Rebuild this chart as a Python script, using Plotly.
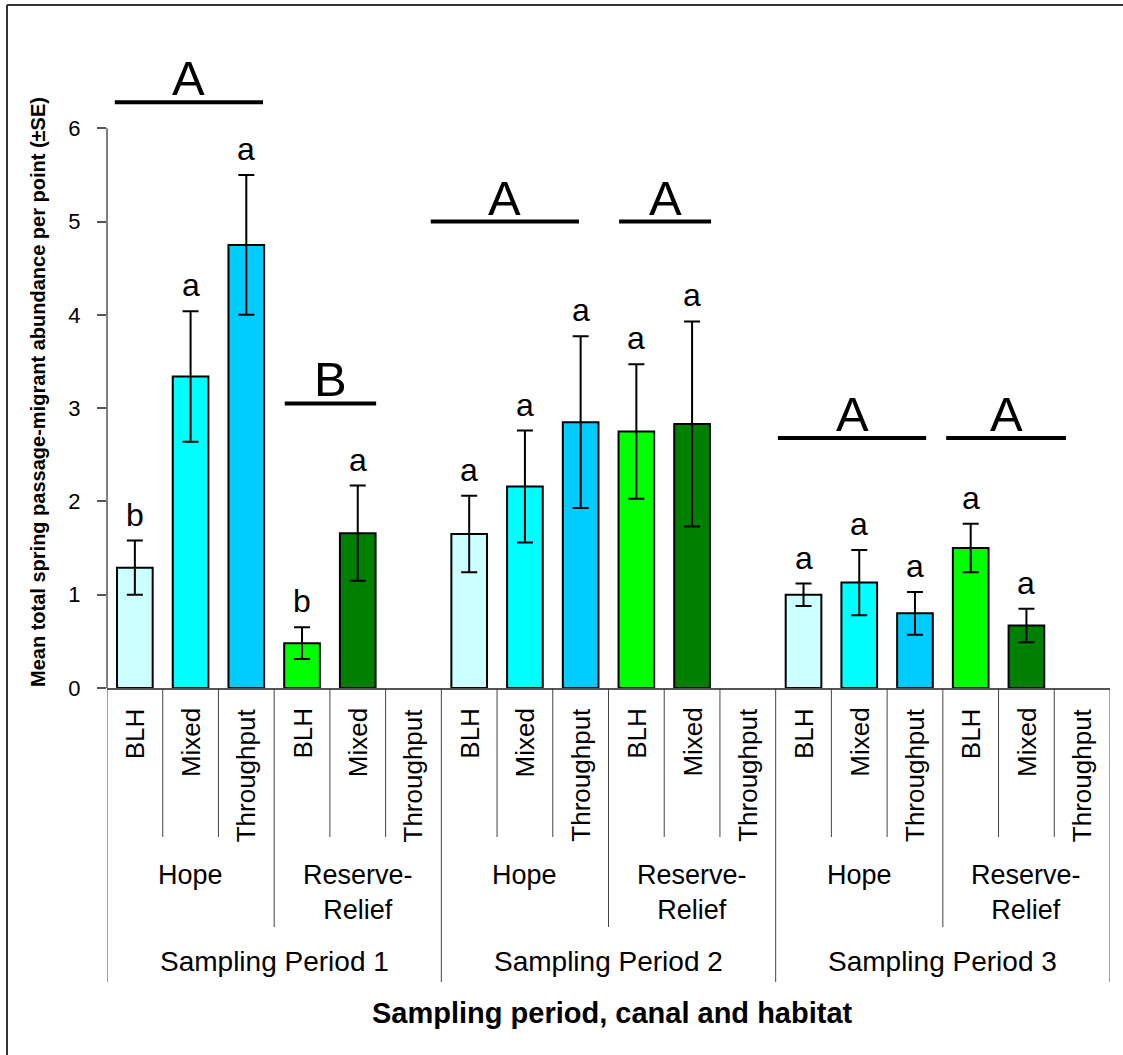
import plotly.graph_objects as go

# ---- data -------------------------------------------------------------
periods = ["Sampling Period 1", "Sampling Period 2", "Sampling Period 3"]
canals = ["Hope", "Reserve-<br>Relief"]
habitats = ["BLH", "Mixed", "Throughput"]

# mean abundance per point, in period -> canal -> habitat order (None = not sampled)
means = [1.29, 3.34, 4.75, 0.48, 1.66, None,
         1.65, 2.16, 2.85, 2.75, 2.83, None,
         1.00, 1.13, 0.80, 1.50, 0.67, None]
se = [0.29, 0.70, 0.75, 0.17, 0.51, None,
      0.41, 0.60, 0.92, 0.72, 1.10, None,
      0.12, 0.35, 0.23, 0.26, 0.18, None]
habitat_letters = ["b", "a", "a", "b", "a", "",
                   "a", "a", "a", "a", "a", "",
                   "a", "a", "a", "a", "a", ""]

# canal-level comparison bars: letter, height, and span in category units
group_letters = ["A", "B", "A", "A", "A", "A"]
group_levels = [6.28, 3.05, 5.0, 5.0, 2.68, 2.68]
group_x0 = [-0.36, 2.69, 5.31, 8.69, 11.54, 14.56]
group_x1 = [2.30, 4.33, 7.97, 10.34, 14.20, 16.71]

canal_colors = [["#CCFFFF", "#00FFFF", "#00CCFF"],
                ["#00FF00", "#008000", "#008000"]]

# ---- layout constants ----------------------------------------------------
W, H = 1123, 1055
ML, MR, MT, MB = 107, 13, 35, 367
PLOT_H = H - MT - MB
PLOT_W = W - ML - MR
FONT = "Arial, Liberation Sans, sans-serif"


def py(px):
    """pixel row -> paper y"""
    return (H - MB - px) / PLOT_H


def pxx(px):
    """pixel column -> paper x"""
    return (px - ML) / PLOT_W


n_h = len(habitats)
n_c = len(canals)
n = len(periods) * n_c * n_h
idx = list(range(n))
colors = [canal_colors[(i // n_h) % n_c][i % n_h] for i in idx]

fig = go.Figure()
fig.add_trace(go.Bar(
    x=idx, y=means, width=0.64,
    marker=dict(color=colors, line=dict(color="#000000", width=2)),
    error_y=dict(type="data", array=[s if s is not None else 0 for s in se],
                 visible=True, color="#000000", thickness=2, width=8),
    showlegend=False, hoverinfo="skip",
))

annotations = []
shapes = []

# significance letters above each bar
for i in idx:
    if means[i] is None:
        continue
    annotations.append(dict(
        x=i, y=means[i] + se[i], xref="x", yref="y",
        text=habitat_letters[i], showarrow=False,
        xanchor="center", yanchor="bottom", yshift=6,
        font=dict(family=FONT, size=32, color="#000000"),
    ))

# canal comparison lines with letters
for k in range(len(group_letters)):
    shapes.append(dict(type="line", xref="x", yref="y",
                       x0=group_x0[k], x1=group_x1[k],
                       y0=group_levels[k], y1=group_levels[k],
                       line=dict(color="#000000", width=4)))
    annotations.append(dict(
        x=(group_x0[k] + group_x1[k]) / 2, y=group_levels[k],
        xref="x", yref="y", text=group_letters[k], showarrow=False,
        xanchor="center", yanchor="bottom", yshift=-5,
        font=dict(family=FONT, size=49, color="#000000"),
    ))

# hierarchical category axis: habitat / canal / period
HAB_DEPTH, CANAL_DEPTH, PERIOD_DEPTH = 837, 927, 982
sep_color = "#444444"
for b in range(n + 1):
    if b % (n_h * n_c) == 0:
        depth = PERIOD_DEPTH
    elif b % n_h == 0:
        depth = CANAL_DEPTH
    else:
        depth = HAB_DEPTH
    shapes.append(dict(type="line", xref="x", yref="paper",
                       x0=b - 0.5, x1=b - 0.5, y0=0, y1=py(depth),
                       line=dict(color=sep_color, width=1)))

for i in idx:
    annotations.append(dict(
        x=i, y=py(706), xref="x", yref="paper",
        text=habitats[i % n_h], showarrow=False, textangle=-90,
        xanchor="center", yanchor="top",
        font=dict(family=FONT, size=26, color="#000000"),
    ))

for p in range(len(periods)):
    for c in range(n_c):
        start = (p * n_c + c) * n_h
        annotations.append(dict(
            x=start + (n_h - 1) / 2, y=py(858), xref="x", yref="paper",
            text=canals[c], showarrow=False,
            xanchor="center", yanchor="top",
            font=dict(family=FONT, size=27, color="#000000"),
        ))
    start = p * n_c * n_h
    annotations.append(dict(
        x=start + (n_c * n_h - 1) / 2, y=py(944), xref="x", yref="paper",
        text=periods[p], showarrow=False,
        xanchor="center", yanchor="top",
        font=dict(family=FONT, size=28, color="#000000"),
    ))

# axis titles
annotations.append(dict(
    x=pxx(612), y=py(995), xref="paper", yref="paper",
    text="<b>Sampling period, canal and habitat</b>", showarrow=False,
    xanchor="center", yanchor="top",
    font=dict(family=FONT, size=29, color="#000000"),
))
annotations.append(dict(
    x=pxx(38), y=py(392), xref="paper", yref="paper",
    text="<b>Mean total spring passage-migrant abundance per point (±SE)</b>",
    showarrow=False, textangle=-90, xanchor="center", yanchor="middle",
    font=dict(family=FONT, size=20, color="#000000"),
))

# value axis line (0 to 6 only)
shapes.append(dict(type="line", xref="paper", yref="y", x0=0, x1=0, y0=0, y1=6,
                   line=dict(color="#555555", width=1.5)))

# chart-area frame: left and top edges
shapes.append(dict(type="line", xref="paper", yref="paper",
                   x0=pxx(7), x1=pxx(7), y0=py(1100), y1=py(5),
                   line=dict(color="#333333", width=2)))
shapes.append(dict(type="line", xref="paper", yref="paper",
                   x0=pxx(7), x1=pxx(1200), y0=py(5), y1=py(5),
                   line=dict(color="#333333", width=2)))

fig.update_layout(
    width=W, height=H,
    margin=dict(l=ML, r=MR, t=MT, b=MB),
    paper_bgcolor="#FFFFFF", plot_bgcolor="#FFFFFF",
    font=dict(family=FONT, color="#000000"),
    annotations=annotations, shapes=shapes,
    xaxis=dict(range=[-0.5, n - 0.5], showticklabels=False, showgrid=False,
               zeroline=False, showline=True, linecolor="#555555", linewidth=1.5,
               ticks=""),
    yaxis=dict(range=[0, 7], tickvals=[0, 1, 2, 3, 4, 5, 6], showgrid=False,
               zeroline=False, showline=False, ticks="outside", ticklen=9,
               tickcolor="#555555", tickwidth=1.5, ticklabelstandoff=12,
               tickfont=dict(family=FONT, size=22, color="#000000")),
    bargap=0.36,
)

fig.write_html("out.html")
